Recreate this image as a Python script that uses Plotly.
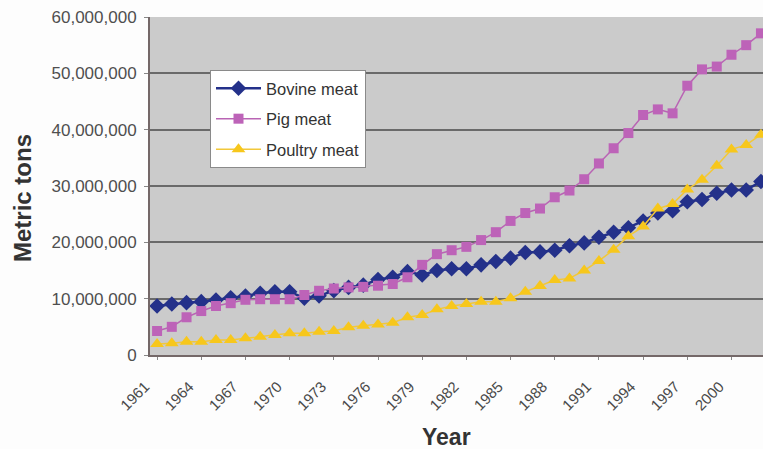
import plotly.graph_objects as go

years = list(range(1961, 2003))

bovine = [8.70, 9.05, 9.29, 9.47, 9.76, 10.17, 10.47, 10.95, 11.24, 11.24,
          10.1, 10.5, 11.42, 12.0, 12.4, 13.4, 13.8, 14.8, 14.2, 15.0,
          15.3, 15.3, 16.0, 16.6, 17.2, 18.2, 18.3, 18.6, 19.4, 19.9,
          20.9, 21.8, 22.6, 23.8, 25.2, 25.6, 27.2, 27.6, 28.7, 29.3,
          29.3, 30.8]

pig = [4.26, 5.0, 6.7, 7.8, 8.7, 9.2, 9.8, 9.9, 9.9, 9.9,
       10.65, 11.4, 11.8, 12.0, 12.1, 12.3, 12.6, 13.8, 16.0, 17.9,
       18.6, 19.2, 20.4, 21.8, 23.8, 25.2, 26.0, 28.0, 29.2, 31.2,
       34.0, 36.7, 39.4, 42.6, 43.6, 42.9, 47.8, 50.7, 51.2, 53.3,
       55.0, 57.1]

poultry = [1.95, 2.07, 2.36, 2.36, 2.66, 2.66, 2.96, 3.25, 3.55, 3.85,
           3.85, 4.14, 4.26, 4.92, 5.2, 5.4, 5.73, 6.69, 7.1, 8.1,
           8.7, 9.05, 9.46, 9.46, 10.07, 11.24, 12.25, 13.3, 13.6, 15.0,
           16.7, 18.7, 21.1, 22.8, 26.0, 26.8, 29.4, 31.1, 33.6, 36.5,
           37.3, 39.1]

series_names = ["Bovine meat", "Pig meat", "Poultry meat"]
tick_years = list(range(1961, 2001, 3))
y_ticks = [0, 10_000_000, 20_000_000, 30_000_000, 40_000_000, 50_000_000, 60_000_000]
x_title = "Year"
y_title = "Metric tons"

MIL = 1_000_000
fig = go.Figure()

styles = [
    dict(line=dict(color="#24318a", width=2.5),
         marker=dict(symbol="diamond", size=12, color="#24318a")),
    dict(line=dict(color="#b964b4", width=1.5),
         marker=dict(symbol="square", size=10, color="#bd63b8")),
    dict(line=dict(color="#f2c83a", width=1.5),
         marker=dict(symbol="triangle-up", size=12, color="#f7c71c")),
]

for name, vals, st in zip(series_names, [bovine, pig, poultry], styles):
    fig.add_trace(go.Scatter(
        x=years, y=[v * MIL for v in vals], name=name, mode="lines+markers",
        legendgroup=name, **st))

W, H = 763, 449
L, R, T, B = 150, 0, 17, 94
pw, ph = W - L - R, H - T - B

fig.update_layout(
    width=W, height=H,
    margin=dict(l=L, r=R, t=T, b=B, autoexpand=False),
    paper_bgcolor="#fdfdfd",
    plot_bgcolor="#cbcbcb",
    font=dict(family="Liberation Sans, Arial, sans-serif", color="#4a4a4a"),
    showlegend=True,
    legend=dict(
        x=(210 - L) / pw, y=(H - B - 70) / ph, xanchor="left", yanchor="top",
        bgcolor="#ffffff", bordercolor="#8a8a8a", borderwidth=1,
        font=dict(size=16.5, color="#333333"),
        tracegroupgap=6, itemwidth=45,
    ),
    xaxis=dict(
        range=[1960.52, 2002.14], automargin=False,
        tickmode="array", tickvals=tick_years,
        ticktext=[str(y) for y in tick_years],
        tickangle=-45, tickfont=dict(size=15, color="#4a4a4a"),
        ticks="outside", ticklen=3, tickcolor="#888",
        ticklabelshift=-12, ticklabelstandoff=12,
        showgrid=False, zeroline=False,
        showline=True, linecolor="#746868", linewidth=2,
    ),
    yaxis=dict(
        range=[0, 60_000_000], automargin=False,
        tickmode="array", tickvals=y_ticks,
        ticktext=[f"{v:,}" for v in y_ticks],
        tickfont=dict(size=17, color="#4f4f4f"),
        ticks="outside", ticklen=4, tickcolor="#888",
        ticklabelstandoff=4,
        showgrid=True, gridcolor="#6a6a6a", gridwidth=1.5,
        zeroline=False,
        showline=True, linecolor="#746868", linewidth=2,
    ),
    annotations=[
        dict(text=f"<b>{x_title}</b>", xref="paper", yref="paper",
             x=(446 - L) / pw, y=(H - B - 437) / ph,
             xanchor="center", yanchor="middle", showarrow=False,
             font=dict(size=23, color="#333333")),
        dict(text=f"<b>{y_title}</b>", xref="paper", yref="paper",
             x=(22 - L) / pw, y=(H - B - 198) / ph, textangle=-90,
             xanchor="center", yanchor="middle", showarrow=False,
             font=dict(size=24, color="#333333")),
    ],
)

fig.write_html(
    "out.html",
    config={"displayModeBar": False},
    post_script="document.body.style.margin='0px';document.body.style.overflow='hidden';",
)
